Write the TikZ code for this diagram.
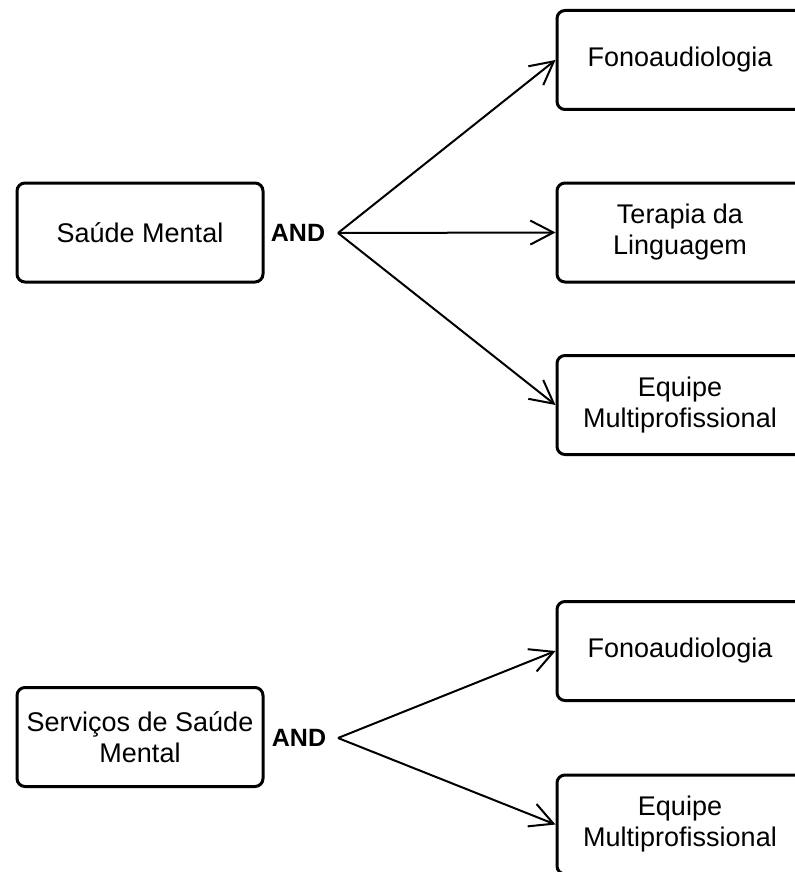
\documentclass[tikz,border=0pt]{standalone}
\usepackage{fontspec}
\setmainfont{Liberation Sans}
\usetikzlibrary{arrows.meta}
\begin{document}
\begin{tikzpicture}[x=0.5pt,y=-0.5pt,
  box/.style={draw=black, line width=1.5pt, rounded corners=4pt, fill=white,
    minimum width=123pt, minimum height=49.5pt, inner sep=2pt, align=center,
    font=\fontsize{13.5}{15.5}\selectfont},
  andlbl/.style={font=\fontsize{12.5}{15}\selectfont\bfseries, inner sep=0pt},
  link/.style={line width=1pt, -{Straight Barb[length=11.5pt,width=12pt,line width=1pt]}}]
\useasboundingbox (0,0) rectangle (795,872);
\clip (0,0) rectangle (795,872);
\fill[white] (0,0) rectangle (795,872);
% top group
\node[box] (L1) at (140,232.5) {Saúde Mental};
\node[box] (R1) at (680,60) {Fonoaudiologia};
\node[box] (R2) at (680,232.5) {Terapia da\\Linguagem};
\node[box] (R3) at (680,405) {Equipe\\Multiprofissional};
\node[andlbl] (A1) at (298,232.5) {AND};
\coordinate (J1) at (338,233);
\draw[link] (J1) -- (R1.west);
\draw[link] (J1) -- (R2.west);
\draw[link] (J1) -- (R3.west);
% bottom group
\node[box] (L2) at (140,737) {Serviços de Saúde\\Mental};
\node[box] (R4) at (680,651) {Fonoaudiologia};
\node[box] (R5) at (680,824.5) {Equipe\\Multiprofissional};
\node[andlbl] (A2) at (299,738) {AND};
\coordinate (J2) at (338,738);
\draw[link] (J2) -- (R4.west);
\draw[link] (J2) -- (R5.west);
\end{tikzpicture}
\end{document}
